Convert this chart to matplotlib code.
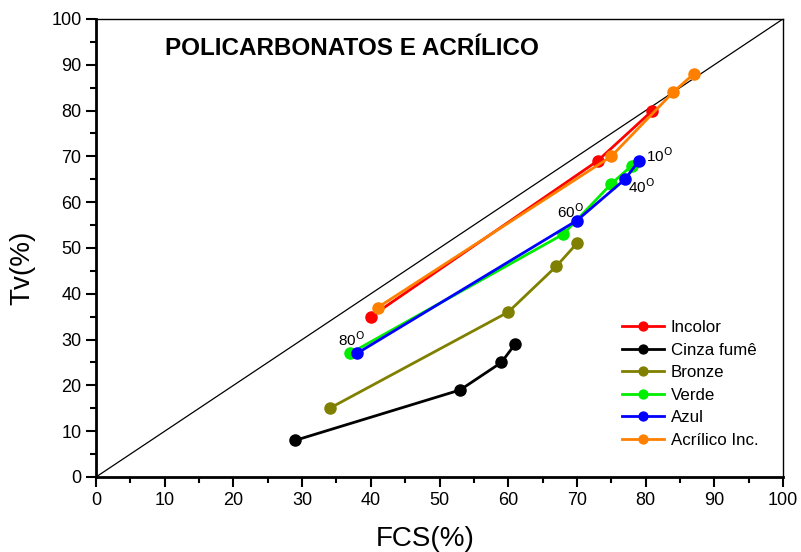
import numpy as np
import matplotlib.pyplot as plt
from matplotlib.ticker import MultipleLocator

plt.rcParams["font.family"] = ["Liberation Sans", "DejaVu Sans"]

# FCS (x) and Tv (y) values per glazing
incolor_fcs = [40, 73, 81]
incolor_tv = [35, 69, 80]
cinza_fcs = [29, 53, 59, 61]
cinza_tv = [8, 19, 25, 29]
bronze_fcs = [34, 60, 67, 70]
bronze_tv = [15, 36, 46, 51]
verde_fcs = [37, 68, 75, 78]
verde_tv = [27, 53, 64, 68]
azul_fcs = [38, 70, 77, 79]
azul_tv = [27, 56, 65, 69]
acrilico_fcs = [41, 75, 84, 87]
acrilico_tv = [37, 70, 84, 88]

angle_labels = ["10", "40", "60", "80"]
angle_fcs = [79, 77, 70, 38]
angle_tv = [69, 65, 56, 27]

fig = plt.figure(figsize=(8.01, 5.52), dpi=100)
ax = fig.add_axes([0.1199, 0.1359, 0.8576, 0.8297])

# reference line Tv = FCS
ax.plot([0, 100], [0, 100], color="black", lw=0.9, zorder=1)

series = [
    ("Incolor", incolor_fcs, incolor_tv, "#ff0000"),
    ("Cinza fumê", cinza_fcs, cinza_tv, "#000000"),
    ("Bronze", bronze_fcs, bronze_tv, "#808000"),
    ("Verde", verde_fcs, verde_tv, "#00ee00"),
    ("Azul", azul_fcs, azul_tv, "#0000ff"),
    ("Acrílico Inc.", acrilico_fcs, acrilico_tv, "#ff8000"),
]
for name, x, y, c in series:
    ax.plot(x, y, "-o", color=c, lw=2, ms=8, label=name, zorder=3)

# angle annotations next to the Azul points
offsets = {"10": (5, -3), "40": (2, -12), "60": (-14, 0), "80": (-14, 3)}
for lab, x, y in zip(angle_labels, angle_fcs, angle_tv):
    ax.annotate(lab + r"$^{\mathrm{O}}$", (x, y), xytext=offsets[lab],
                textcoords="offset points", fontsize=11, ha="left", va="bottom")

ax.text(10, 93.5, "POLICARBONATOS E ACRÍLICO", fontsize=17.5,
        fontweight="bold", ha="left", va="center")

ax.set_xlim(0, 100)
ax.set_ylim(0, 100)
ax.xaxis.set_major_locator(MultipleLocator(10))
ax.xaxis.set_minor_locator(MultipleLocator(5))
ax.yaxis.set_major_locator(MultipleLocator(10))
ax.yaxis.set_minor_locator(MultipleLocator(5))
ax.tick_params(which="major", direction="out", length=7, width=1.5,
               labelsize=13, top=False, right=False)
ax.tick_params(which="minor", direction="out", length=4, width=1.5,
               top=False, right=False)
for s in ["left", "bottom"]:
    ax.spines[s].set_linewidth(2)
for s in ["top", "right"]:
    ax.spines[s].set_linewidth(1)

ax.set_xlabel("FCS(%)", fontsize=20)
ax.set_ylabel("Tv(%)", fontsize=20)
ax.xaxis.set_label_coords(0.479, -0.107)
ax.yaxis.set_label_coords(-0.089, 0.456)

ax.legend(loc="upper left", bbox_to_anchor=(0.765, 0.343), frameon=False,
          fontsize=12.2, handlelength=2.5, handletextpad=0.4, labelspacing=0.45,
          markerscale=0.8, borderpad=0, borderaxespad=0)

fig.savefig("out.png", dpi=100)
